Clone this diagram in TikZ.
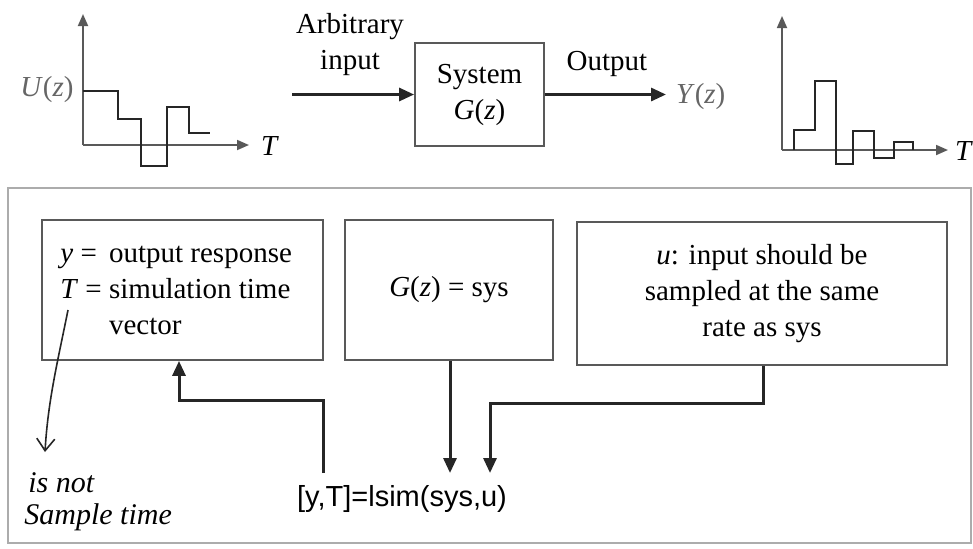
\documentclass[tikz,border=0pt]{standalone}
\usepackage{fontspec}
\setmainfont{Liberation Serif}
\setsansfont{Liberation Sans}
\usetikzlibrary{arrows.meta}
\begin{document}
\begin{tikzpicture}[x=0.5pt,y=-0.5pt,
  arr/.style={line width=1.5pt,black!85,-{Triangle[length=7.5pt,width=6.5pt]}},
  ax/.style={line width=0.9pt,gray!70!black,-{Triangle[length=6pt,width=5pt]}},
  sig/.style={line width=1.3pt,black!85},
  blk/.style={draw=gray!70!black,line width=0.9pt,inner sep=0pt},
  txt/.style={font=\fontsize{14.5}{18}\selectfont},
  hand/.style={font=\fontsize{15}{16}\selectfont\itshape,align=left,inner sep=0pt}
]
\useasboundingbox (0,0) rectangle (973,548);

% ---------- top: input signal ----------
\coordinate (o1) at (83,145);
\draw[ax] (o1) -- (83,14);
\draw[ax] (o1) -- (249,145);
\node[txt] (tl) at (270,146) {\textit{T}};
\node[txt,gray!80!black] (uz) at (47,90) {\textit{U}(\textit{z})};
\draw[sig] (83,91) -| (118,119) -| (141,166) -| (167,107) -| (189,133) -- (210,133);

% ---------- top: system ----------
\node[blk,txt,minimum width=64.5pt,minimum height=51.5pt,align=center] (sys) at (479.5,94.5) {System\\\textit{G}(\textit{z})};
\coordinate (in0) at (292,94.5);
\draw[arr] (in0) -- (sys.west);
\coordinate (out0) at (666,94.5);
\draw[arr] (sys.east) -- (out0);
\node[txt,align=center] (arb) at (350,45) {Arbitrary\\input};
\node[txt] (outl) at (607,64) {Output};
\node[txt,gray!80!black,anchor=west] (yz) at (669,97) {\textit{Y}(\textit{z})};

% ---------- top: output signal ----------
\coordinate (o2) at (782,150);
\draw[ax] (o2) -- (782,16);
\draw[ax] (o2) -- (948,150);
\node[txt] (tr) at (964,151) {\textit{T}};
\draw[sig] (794,150) |- (815,130) |- (836,81) |- (853,164) |- (874,131) |- (894,158) |- (913,142) -- (913,150);

% ---------- bottom frame ----------
\draw[gray!65,line width=0.7pt] (8,188) rectangle (971,543);

\node[blk,minimum width=140.5pt,minimum height=70pt] (b1) at (182.5,290) {};
\node[txt,anchor=west,inner sep=0pt] (b1t) at (60,291) {%
  \begin{tabular}{@{}l@{ }l@{}}
  \textit{y} = & output response\\
  \textit{T} = & simulation time\\
  & vector
  \end{tabular}};
\node[blk,txt,minimum width=104pt,minimum height=70pt] (b2) at (449,290) {\textit{G}(\textit{z}) = sys};
\node[blk,txt,minimum width=185pt,minimum height=71.5pt,align=center] (b3) at (762,293.5)
  {\textit{u}: input should be\\sampled at the same\\rate as sys};

\node[font=\sffamily\fontsize{14.5}{16}\selectfont] (ls) at (402,499) {[y,T]=lsim(sys,u)};

\coordinate (a1) at (323,473);
\coordinate (c1) at (179,400);
\draw[arr] (a1) |- (c1) -- (b1.south -| c1);
\coordinate (c2) at (450,473);
\draw[arr] (b2.south -| c2) -- (c2);
\coordinate (c3a) at (763,403);
\coordinate (c3) at (490,473);
\draw[arr] (b3.south -| c3a) -- (c3a) -| (c3);

% ---------- handwritten note ----------
\coordinate (h0) at (68,310);
\coordinate (h1) at (45,452);
\draw[line width=0.8pt,black!85,-{Straight Barb[length=6pt,width=9pt]}] (h0) .. controls (58,360) and (48,400) .. (h1);
\node[hand,anchor=north west] (note) at (24,472) {\hspace{2pt}is not\\Sample time};
\end{tikzpicture}
\end{document}
